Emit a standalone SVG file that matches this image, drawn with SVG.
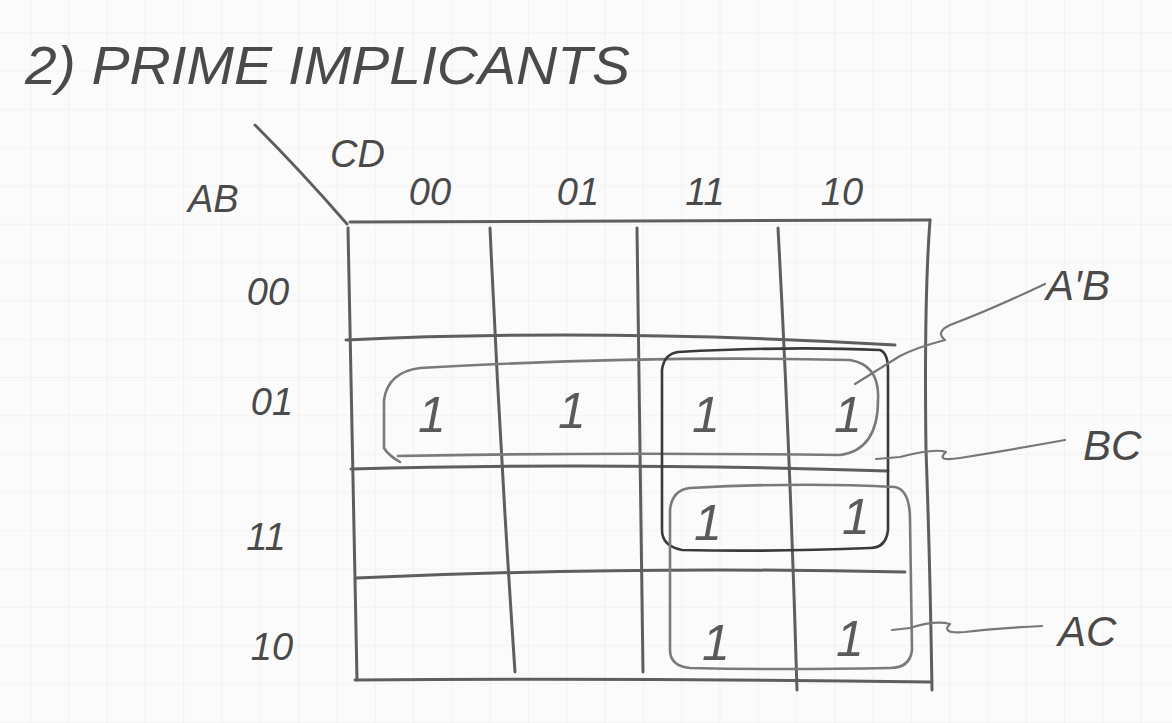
<svg xmlns="http://www.w3.org/2000/svg" width="1172" height="723" viewBox="0 0 1172 723">
<defs>
<pattern id="paper" x="30" y="-6" width="38.3" height="38.3" patternUnits="userSpaceOnUse">
<path d="M0 0 H38.3 M0 0 V38.3" fill="none" stroke="#ececec" stroke-width="1.2"/>
</pattern>
<style>
.ink{fill:none;stroke:#5e5e5e;stroke-width:3;stroke-linecap:round;stroke-linejoin:round}
.dark{fill:none;stroke:#3a3a3a;stroke-width:2.6;stroke-linecap:round;stroke-linejoin:round}
.lite{fill:none;stroke:#7a7a7a;stroke-width:2.6;stroke-linecap:round;stroke-linejoin:round}
.ptr{fill:none;stroke:#777;stroke-width:2.2;stroke-linecap:round;stroke-linejoin:round}
.t{font-family:"Liberation Sans","DejaVu Sans",sans-serif;font-style:italic;fill:#4a4a4a}
.lbl{font-size:38px}
.one{font-family:"Liberation Sans",sans-serif;font-size:50px;font-style:italic;fill:#5a5a5a;text-anchor:middle}
</style>
</defs>
<rect width="1172" height="723" fill="#fbfbfb"/>
<rect width="1172" height="723" fill="url(#paper)"/>

<g id="title">
<text class="t" x="25" y="84" font-size="54" textLength="605" lengthAdjust="spacingAndGlyphs">2) PRIME IMPLICANTS</text>
</g>

<g id="axis-labels">
<path class="ink" d="M255 125 Q300 170 347 224"/>
<text class="t lbl" x="188" y="212">AB</text>
<text class="t lbl" x="330" y="167">CD</text>
</g>

<g id="column-labels">
<text class="t lbl" x="430" y="205" text-anchor="middle">00</text>
<text class="t lbl" x="578" y="205" text-anchor="middle">01</text>
<text class="t lbl" x="705" y="205" text-anchor="middle">11</text>
<text class="t lbl" x="842" y="205" text-anchor="middle">10</text>
</g>

<g id="row-labels">
<text class="t lbl" x="268" y="305" text-anchor="middle">00</text>
<text class="t lbl" x="272" y="415" text-anchor="middle">01</text>
<text class="t lbl" x="266" y="550" text-anchor="middle">11</text>
<text class="t lbl" x="272" y="660" text-anchor="middle">10</text>
</g>

<g id="kmap-grid">
<path class="ink" d="M350 222 Q640 220 930 220"/>
<path class="ink" d="M348 228 Q352 450 357 680"/>
<path class="ink" d="M490 228 Q500 450 515 672"/>
<path class="ink" d="M637 228 Q640 450 643 672"/>
<path class="ink" d="M778 228 Q790 450 797 690"/>
<path class="ink" d="M930 220 Q924 300 926 450 Q930 560 932 690"/>
<path class="ink" d="M346 340 Q600 328 895 345"/>
<path class="ink" d="M351 469 Q600 462 888 471"/>
<path class="ink" d="M356 578 Q620 566 905 572"/>
<path class="ink" d="M355 680 Q640 678 930 682"/>
</g>

<g id="cells">
<text class="one" x="432" y="432">1</text>
<text class="one" x="572" y="428">1</text>
<text class="one" x="706" y="432">1</text>
<text class="one" x="848" y="432">1</text>
<text class="one" x="708" y="540">1</text>
<text class="one" x="856" y="534">1</text>
<text class="one" x="716" y="660">1</text>
<text class="one" x="850" y="656">1</text>
</g>

<g id="group-AprimeB">
<path class="lite" d="M400 462 Q388 455 384 448 L384 400 Q388 372 420 368 Q650 355 850 360 Q880 365 878 400 Q878 450 840 455 Q600 452 398 456"/>
</g>

<g id="group-BC">
<path class="dark" d="M678 352 Q790 346 880 350 Q888 353 888 370 L888 530 Q886 548 870 548 Q770 552 682 550 Q662 546 662 530 L662 370 Q664 354 678 352 Z"/>
</g>

<g id="group-AC">
<path class="lite" d="M690 488 Q800 482 895 487 Q910 490 910 520 L912 650 Q910 668 890 668 Q780 670 690 668 Q670 666 670 650 L670 510 Q672 490 690 488 Z"/>
</g>

<g id="connectors">
<path class="ptr" d="M1045 284 Q990 310 950 325 Q935 332 945 340 Q915 348 900 356 L855 384"/>
<path class="ptr" d="M1065 440 Q1010 450 960 458 Q935 462 946 452 Q935 448 900 457 L876 459"/>
<path class="ptr" d="M1042 626 Q1000 628 965 632 Q940 634 950 624 Q935 620 910 628 L892 630"/>
</g>

<g id="term-labels">
<text class="t" font-size="42" x="1046" y="300">A′B</text>
<text class="t" font-size="42" x="1083" y="460">BC</text>
<text class="t" font-size="42" x="1058" y="646">AC</text>
</g>
</svg>
